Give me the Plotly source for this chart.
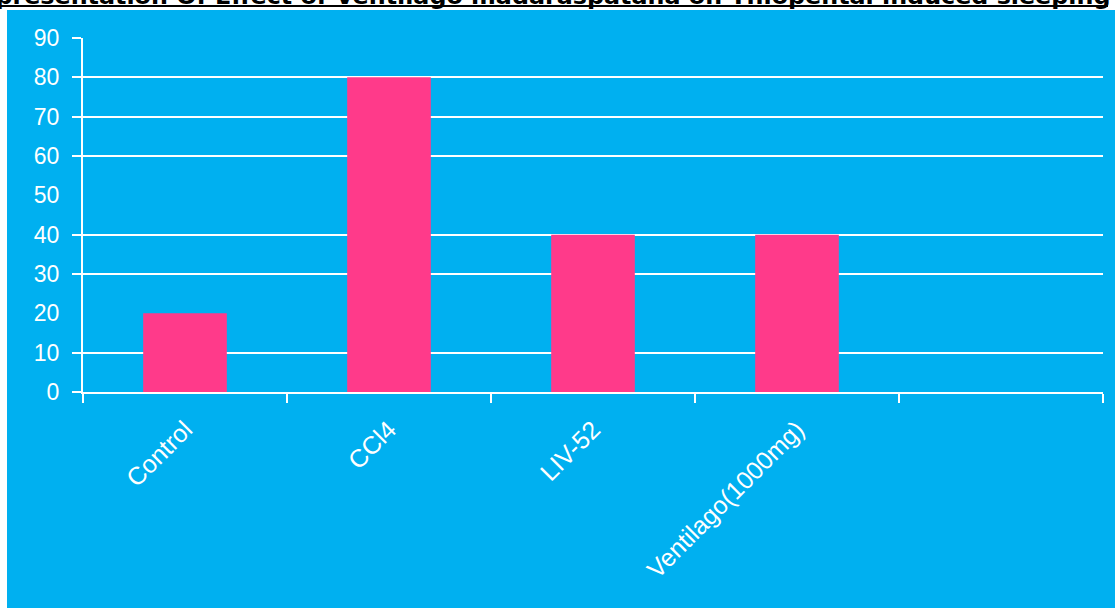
import plotly.graph_objects as go

# ---- data ----
categories = ["Control", "CCl4", "LIV-52", "Ventilago(1000mg)"]
values = [20, 80, 40, 40]
blank_slot = " "
y_label_vals = [0, 10, 20, 30, 40, 50, 60, 70, 80, 90]
y_grid_vals = [0, 10, 30, 40, 60, 70, 80, 90]
title_text = "Representation Of Effect of Ventilago madaraspatana on Thiopental induced sleeping"

W, H = 1115, 608
L, R, T, B = 83, 1103, 38, 392  # plot area in pixels
BLUE = "#00B0F0"
PINK = "#FF3A8A"


def px(x):
    return (x - L) / (R - L)


def py(y):
    return (B - y) / (B - T)


fig = go.Figure()
fig.add_trace(go.Bar(
    x=categories + [blank_slot],
    y=values + [None],
    marker=dict(color=PINK, line=dict(width=0)),
    showlegend=False,
    hoverinfo="skip",
))
# invisible trace to carry the label axis
fig.add_trace(go.Scatter(x=[categories[0]], y=[0], yaxis="y2", mode="markers",
                         marker=dict(opacity=0), showlegend=False, hoverinfo="skip"))

fig.update_layout(
    width=W, height=H,
    margin=dict(l=L, r=W - R, t=T, b=H - B, pad=0),
    paper_bgcolor="white",
    plot_bgcolor=BLUE,
    bargap=0.59,
    xaxis=dict(
        type="category",
        categoryorder="array",
        categoryarray=categories + [blank_slot],
        tickson="boundaries",
        ticks="outside", ticklen=9, tickwidth=2, tickcolor="white",
        showline=True, linecolor="white", linewidth=2,
        showgrid=False, zeroline=False,
        tickangle=-45,
        ticklabelstandoff=11,
        tickfont=dict(family="Liberation Sans, Arial", size=25, color="white"),
    ),
    yaxis=dict(
        range=[0, 90],
        tickvals=y_grid_vals,
        showticklabels=False,
        ticks="outside", ticklen=9, tickwidth=2, tickcolor="white",
        showgrid=True, gridcolor="white", gridwidth=2,
        showline=True, linecolor="white", linewidth=2,
        zeroline=False,
    ),
    yaxis2=dict(
        overlaying="y", side="left",
        range=[0, 90],
        tickvals=y_label_vals,
        ticktext=[str(v) for v in y_label_vals],
        ticks="outside", ticklen=18, tickcolor="rgba(0,0,0,0)",
        showgrid=False, zeroline=False, showline=False,
        tickfont=dict(family="Liberation Sans, Arial", size=23, color="white"),
    ),
    shapes=[
        dict(type="rect", xref="paper", yref="paper", layer="below",
             x0=px(7), x1=px(W + 5), y0=py(H + 5), y1=py(10),
             fillcolor=BLUE, line=dict(width=0)),
        dict(type="line", xref="paper", yref="paper",
             x0=px(0), x1=px(1108), y0=py(6), y1=py(6),
             line=dict(color="black", width=2)),
    ],
    annotations=[
        dict(text="<b>" + title_text + "</b>", xref="paper", yref="paper",
             x=px(1112), y=py(12), xanchor="right", yanchor="bottom",
             showarrow=False,
             font=dict(family="DejaVu Sans", size=23.8, color="black")),
    ],
)

fig.write_html("out.html",
               config={"displayModeBar": False},
               post_script="document.body.style.margin='0';document.body.style.overflow='hidden';")
